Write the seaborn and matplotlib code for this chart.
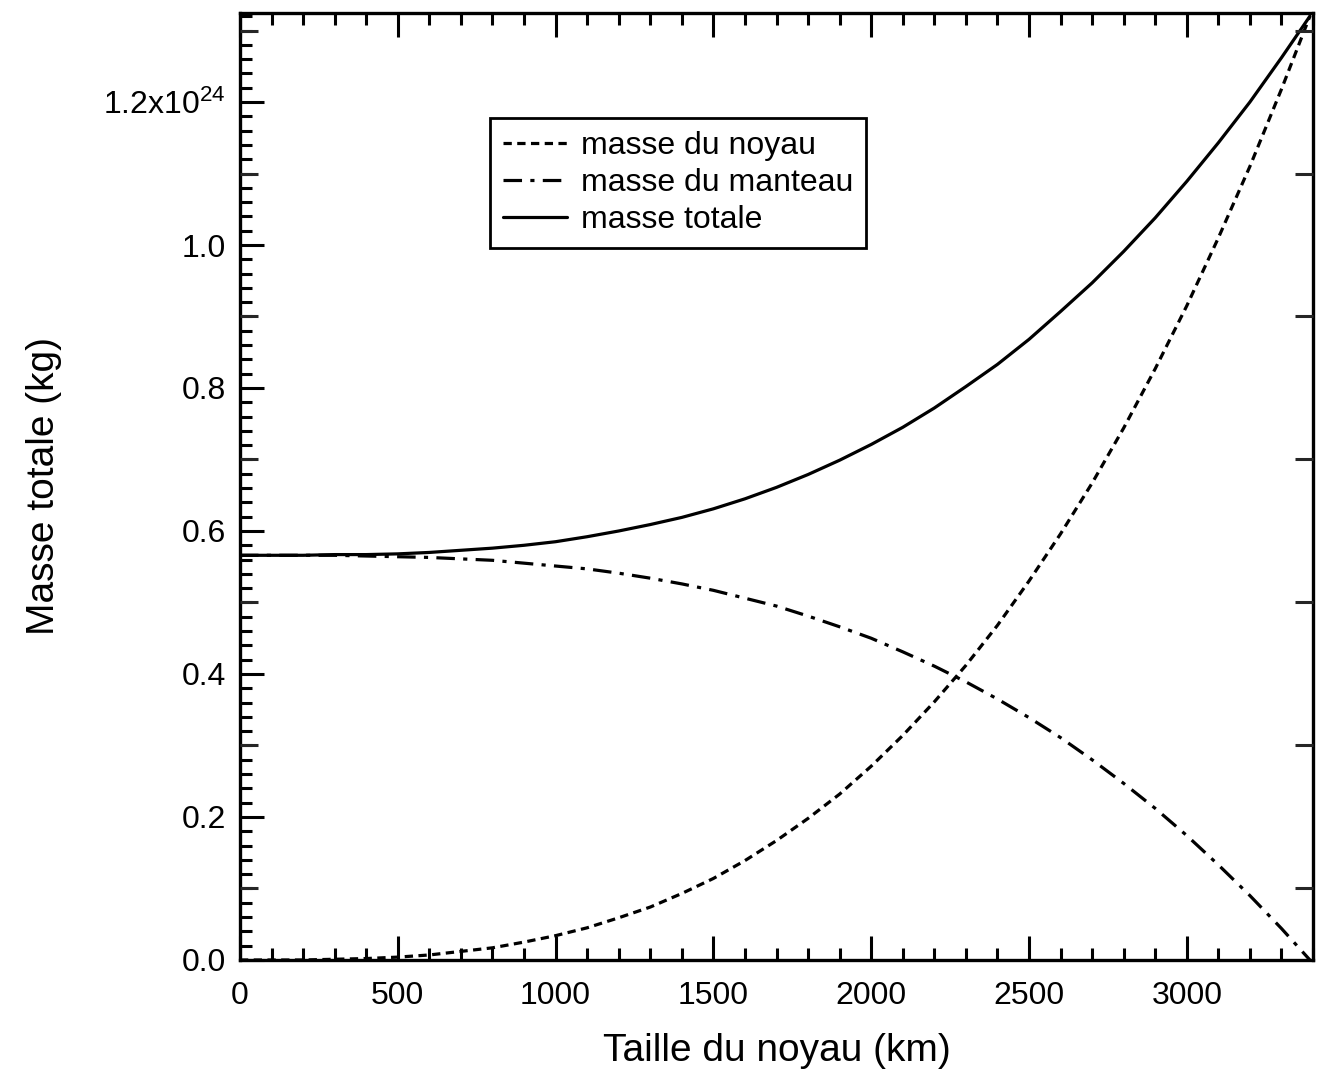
import pandas as pd
import matplotlib
matplotlib.use('Agg')
import matplotlib.pyplot as plt
from matplotlib.ticker import MultipleLocator, FuncFormatter, NullLocator
import seaborn as sns

# valeurs (masses en 1e24 kg)
taille = [0, 100, 200, 300, 400, 500, 600, 700, 800, 900, 1000, 1100, 1200,
          1300, 1400, 1500, 1600, 1700, 1800, 1900, 2000, 2100, 2200, 2300,
          2400, 2500, 2600, 2700, 2800, 2900, 3000, 3100, 3200, 3300, 3390]
masse_noyau = [0.000, 0.000, 0.000, 0.001, 0.002, 0.004, 0.007, 0.012, 0.017,
               0.025, 0.034, 0.045, 0.059, 0.074, 0.093, 0.114, 0.139, 0.167,
               0.198, 0.232, 0.271, 0.314, 0.361, 0.412, 0.468, 0.530, 0.596,
               0.667, 0.744, 0.827, 0.915, 1.010, 1.110, 1.218, 1.320]
masse_manteau = [0.566, 0.566, 0.566, 0.566, 0.565, 0.564, 0.563, 0.561, 0.559,
                 0.555, 0.551, 0.547, 0.541, 0.534, 0.526, 0.517, 0.506, 0.495,
                 0.481, 0.466, 0.450, 0.431, 0.411, 0.389, 0.365, 0.339, 0.311,
                 0.280, 0.247, 0.212, 0.174, 0.133, 0.090, 0.044, 0.000]
masse_totale = [0.566, 0.566, 0.566, 0.567, 0.567, 0.568, 0.570, 0.573, 0.576,
                0.580, 0.585, 0.592, 0.600, 0.609, 0.619, 0.631, 0.645, 0.661,
                0.679, 0.699, 0.721, 0.745, 0.772, 0.802, 0.833, 0.868, 0.907,
                0.947, 0.991, 1.038, 1.089, 1.143, 1.200, 1.262, 1.320]

series = ['masse du noyau', 'masse du manteau', 'masse totale']

df = pd.concat([
    pd.DataFrame({'taille': taille, 'masse': masse_noyau, 'serie': series[0]}),
    pd.DataFrame({'taille': taille, 'masse': masse_manteau, 'serie': series[1]}),
    pd.DataFrame({'taille': taille, 'masse': masse_totale, 'serie': series[2]}),
])

sns.set_style('ticks')
plt.rcParams['font.family'] = ['Liberation Sans', 'DejaVu Sans']
plt.rcParams['mathtext.fontset'] = 'custom'
plt.rcParams['mathtext.rm'] = 'Liberation Sans'
plt.rcParams['mathtext.default'] = 'regular'
plt.rcParams['text.color'] = 'black'
plt.rcParams['axes.labelcolor'] = 'black'

fig = plt.figure(figsize=(13.17, 10.83), dpi=100)
ax = fig.add_axes([0.1822, 0.1136, 0.8148, 0.8744])

sns.lineplot(data=df, x='taille', y='masse', style='serie', style_order=series,
             dashes={series[0]: (2.6, 1.7), series[1]: (5.8, 2.6, 1.3, 2.6), series[2]: ''},
             color='black', lw=2.3, errorbar=None, ax=ax)

ax.set_xlim(0, 3400)
ax.set_ylim(0, 1.3245)

ax.xaxis.set_major_locator(MultipleLocator(500))
ax.xaxis.set_minor_locator(MultipleLocator(100))
ax.yaxis.set_major_locator(MultipleLocator(0.2))
ax.yaxis.set_minor_locator(MultipleLocator(0.02))

def fmt_y(v, pos):
    if abs(v - 1.2) < 1e-6:
        return '1.2x10$^{24}$'
    return '%.1f' % v

ax.yaxis.set_major_formatter(FuncFormatter(fmt_y))

ax.tick_params(which='both', direction='in', top=True, right=True, width=2.2,
               colors='black', labelcolor='black')
ax.tick_params(which='major', length=17, labelsize=23)
ax.tick_params(which='minor', length=8.6)
ax.tick_params(axis='x', which='major', pad=15)
ax.tick_params(axis='y', which='major', pad=10)
for s in ax.spines.values():
    s.set_linewidth(2.4)
    s.set_color('black')

# ticks intermediaires a 0.1
ax2 = ax.twinx()
ax2.set_ylim(ax.get_ylim())
ax2.set_yticks([0.1, 0.3, 0.5, 0.7, 0.9, 1.1, 1.3])
ax2.yaxis.set_minor_locator(NullLocator())
ax2.yaxis.set_ticks_position('both')
ax2.tick_params(axis='y', direction='in', length=13, width=2.2,
                labelleft=False, labelright=False)
for s in ax2.spines.values():
    s.set_visible(False)

ax.set_xlabel('Taille du noyau (km)', fontsize=28, labelpad=16)
ax.set_ylabel('Masse totale (kg)', fontsize=28, labelpad=30)

handles, labels = ax.get_legend_handles_labels()
leg = ax.legend(handles, labels, loc='upper left', bbox_to_anchor=(0.233, 0.889),
                fontsize=23, frameon=True, fancybox=False, framealpha=1,
                edgecolor='black', handlelength=2.0, handletextpad=0.45,
                labelspacing=0.22, borderpad=0.4, borderaxespad=0)
leg.get_frame().set_linewidth(2)

fig.savefig('out.png', dpi=100)
